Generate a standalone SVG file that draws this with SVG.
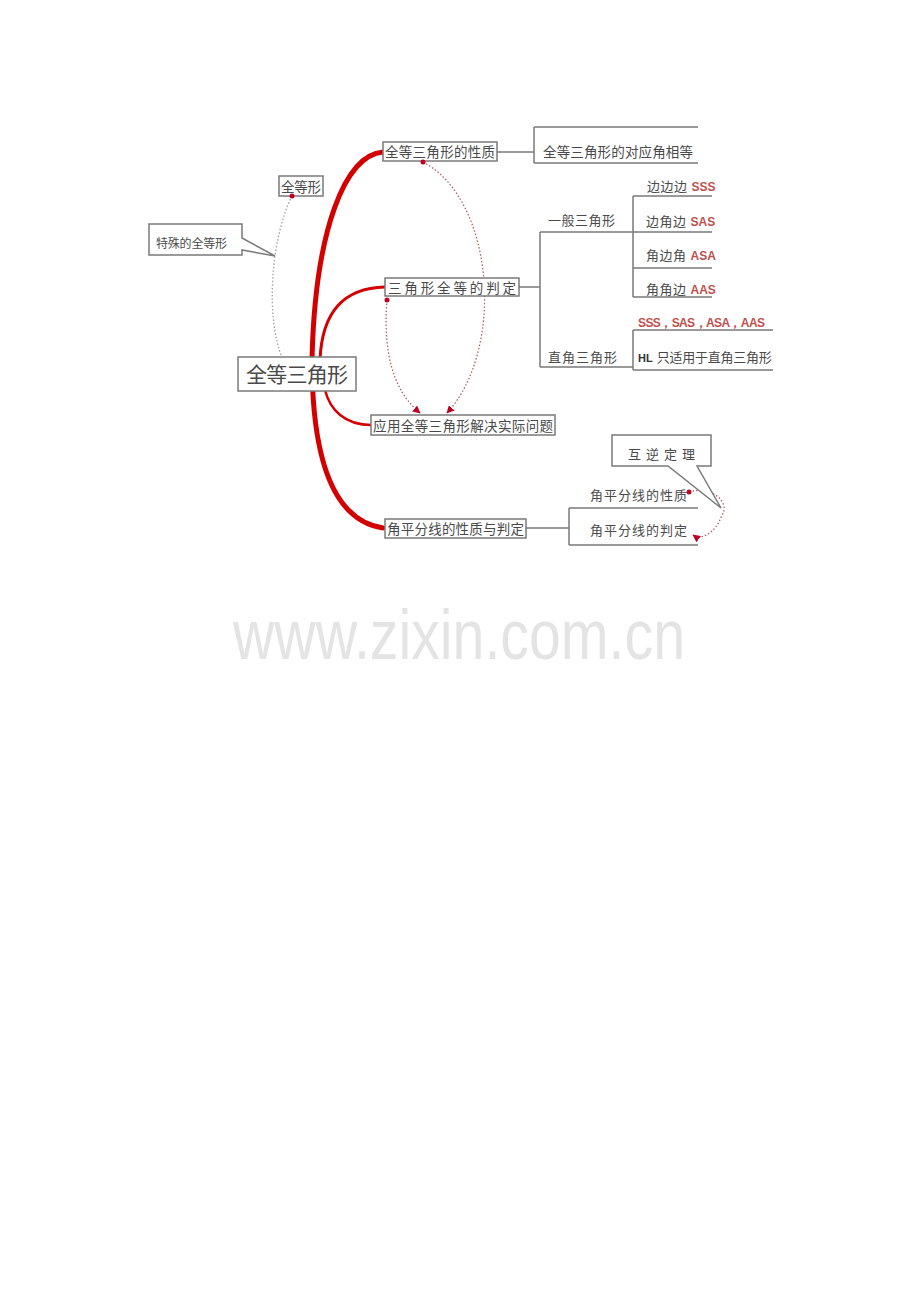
<svg xmlns="http://www.w3.org/2000/svg" width="920" height="1302" viewBox="0 0 920 1302">
<style>
.box{fill:#fff;stroke:#7a7a7a;stroke-width:1.5}
.ln{fill:none;stroke:#7a7a7a;stroke-width:1.5}
.t{font-family:"Noto Sans CJK SC","Liberation Serif",serif;fill:#4a4a4a}
.lat{font-family:"Liberation Sans",sans-serif;font-weight:bold;fill:#c0504d}
.red{fill:none;stroke:#d40000;stroke-linecap:round}
.dotr{fill:none;stroke:#b06060;stroke-width:1.3;stroke-dasharray:1.5 2}
.dotg{fill:none;stroke:#a0a0a0;stroke-width:1.3;stroke-dasharray:1.5 2}
.dot{fill:#c00020}
</style>
<defs>
<marker id="ar" viewBox="0 0 10 10" refX="9" refY="5" markerWidth="6" markerHeight="6" orient="auto">
<path d="M0,0 L10,5 L0,10 z" fill="#c00020"/>
</marker>
</defs>
<rect width="920" height="1302" fill="#fff"/>

<text x="233" y="659" font-family="Liberation Sans,sans-serif" font-size="70" fill="#e4e4e4" textLength="452" lengthAdjust="spacingAndGlyphs">www.zixin.com.cn</text>

<g id="connectors">
<path class="red" stroke-width="5" d="M383,152 C345,155 315,230 312,360 C312,450 330,520 383,528"/>
<path class="red" stroke-width="3" d="M320,360 C322,310 345,288 385,287"/>
<path class="red" stroke-width="2.5" d="M325,390 C330,410 345,425 371,425"/>
<path class="dotg" d="M292,196 C270,240 266,320 282,357"/>
<path class="dotr" d="M423,162 C495,200 505,350 447,413" marker-end="url(#ar)"/>
<path class="dotr" d="M387,300 C383,350 392,390 420,413" marker-end="url(#ar)"/>
<path class="dotr" d="M689,492 C715,485 730,505 722,515 C715,535 700,540 693,535" marker-end="url(#ar)"/>
<path class="ln" d="M497,152 H534 M534,127 V163 M534,127 H698 M534,163 H698"/>
<path class="ln" d="M519,287 H540 M540,232 V367 M540,232 H633 M633,196 V297 M633,196 H712 M633,232 H712 M633,268 H712 M633,297 H712 M540,367 H633 M633,330 V370 M633,330 H773 M633,370 H773"/>
<path class="ln" d="M526,528 H569 M569,508 V545 M569,508 H698 M569,545 H698"/>
</g>

<g id="n-center">
<rect class="box" x="238" y="357" width="118" height="34"/>
<text class="t" x="246" y="382" font-size="21" textLength="102">全等三角形</text>
</g>
<g id="n-quandengxing">
<rect class="box" x="279" y="176" width="44" height="20"/>
<text class="t" x="281" y="192" font-size="13.5" textLength="40">全等形</text>
<circle class="dot" cx="292" cy="196" r="2.5"/>
</g>
<g id="n-teshu">
<path class="box" d="M149,224 H242 V238 L275,256 L242,250 V255 H149 Z"/>
<text class="t" x="156" y="248" font-size="12" textLength="71">特殊的全等形</text>
</g>
<g id="n-xingzhi">
<rect class="box" x="383" y="142" width="114" height="19"/>
<text class="t" x="385" y="157" font-size="13.5" textLength="110">全等三角形的性质</text>
<circle class="dot" cx="423" cy="162" r="2.5"/>
</g>
<g id="n-duiying">
<text class="t" x="543" y="157" font-size="13.5" textLength="150">全等三角形的对应角相等</text>
</g>
<g id="n-panding">
<rect class="box" x="385" y="278" width="134" height="18"/>
<text class="t" x="388" y="293" font-size="13.5" textLength="128">三角形全等的判定</text>
<circle class="dot" cx="387" cy="300" r="2.5"/>
</g>
<g id="n-yiban">
<text class="t" x="548" y="225" font-size="13" textLength="67">一般三角形</text>
</g>
<g id="n-sss"><text x="647" y="191" font-size="13"><tspan class="t" textLength="40">边边边</tspan><tspan class="lat" font-size="12" dx="4">SSS</tspan></text></g>
<g id="n-sas"><text x="646" y="226" font-size="13"><tspan class="t" textLength="40">边角边</tspan><tspan class="lat" font-size="12" dx="4">SAS</tspan></text></g>
<g id="n-asa"><text x="646" y="260" font-size="13"><tspan class="t" textLength="40">角边角</tspan><tspan class="lat" font-size="12" dx="4">ASA</tspan></text></g>
<g id="n-aas"><text x="646" y="294" font-size="13"><tspan class="t" textLength="40">角角边</tspan><tspan class="lat" font-size="12" dx="4">AAS</tspan></text></g>
<g id="n-zhijiao">
<text class="t" x="548" y="362" font-size="13" textLength="69">直角三角形</text>
</g>
<g id="n-hl">
<text class="lat" x="638" y="327" font-size="12" textLength="127">SSS，SAS，ASA，AAS</text>
<text x="638" y="362" font-size="13"><tspan font-family="Liberation Sans,sans-serif" font-weight="bold" font-size="11" fill="#333">HL</tspan><tspan class="t" dx="4" textLength="115">只适用于直角三角形</tspan></text>
</g>
<g id="n-yingyong">
<rect class="box" x="371" y="415" width="184" height="20"/>
<text class="t" x="373" y="431" font-size="13.5" textLength="180">应用全等三角形解决实际问题</text>
</g>
<g id="n-jiaoping">
<rect class="box" x="385" y="519" width="141" height="19"/>
<text class="t" x="387" y="534" font-size="13.5" textLength="137">角平分线的性质与判定</text>
</g>
<g id="n-jp-xingzhi">
<text class="t" x="590" y="500" font-size="13" textLength="97">角平分线的性质</text>
<circle class="dot" cx="689" cy="492" r="2.5"/>
</g>
<g id="n-jp-panding">
<text class="t" x="590" y="535" font-size="13" textLength="97">角平分线的判定</text>
</g>
<g id="n-huni">
<path class="box" d="M612,435 H711 V466 H697 L721,508 L668,466 H612 Z"/>
<text class="t" x="628" y="459" font-size="13" textLength="67">互逆定理</text>
</g>
</svg>
